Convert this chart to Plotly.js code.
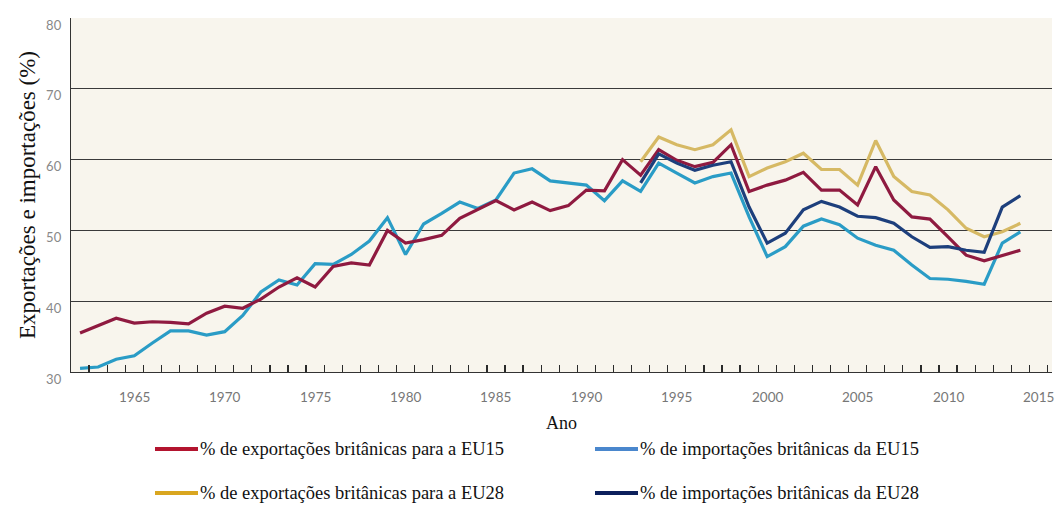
<!DOCTYPE html>
<html>
<head>
<meta charset="utf-8">
<script src="https://cdn.plot.ly/plotly-3.0.1.min.js"></script>
<style>html,body{margin:0;padding:0;background:#fff;}#chart{width:1059px;height:523px;}</style>
</head>
<body>
<div id="chart"></div>
<script>
var years = [];
for (var yr = 1962; yr <= 2014; yr++) years.push(yr);
var yearsEU28 = years.slice(years.indexOf(1993));

var exportsEU15 = [35.5, 36.6, 37.6, 36.9, 37.1, 37.0, 36.8, 38.3, 39.3, 39.0,
  40.3, 42.0, 43.3, 42.0, 44.9, 45.4, 45.1, 50.0, 48.2, 48.7,
  49.3, 51.7, 52.9, 54.2, 52.9, 54.0, 52.8, 53.5, 55.7, 55.6,
  60.0, 57.8, 61.4, 59.9, 59.0, 59.6, 62.1, 55.5, 56.4, 57.1,
  58.2, 55.7, 55.7, 53.6, 59.0, 54.3, 51.9, 51.6, 49.1, 46.5,
  45.7, 46.5, 47.2];
var importsEU15 = [30.5, 30.7, 31.8, 32.3, 34.1, 35.8, 35.8, 35.2, 35.7, 38.0,
  41.3, 43.0, 42.3, 45.3, 45.2, 46.6, 48.5, 51.8, 46.6, 50.9,
  52.4, 54.0, 53.1, 54.3, 58.1, 58.7, 57.0, 56.7, 56.4, 54.2,
  57.0, 55.5, 59.5, 58.1, 56.7, 57.6, 58.1, 51.9, 46.3, 47.7,
  50.6, 51.6, 50.8, 48.9, 47.9, 47.2, 45.1, 43.2, 43.1, 42.8,
  42.4, 48.2, 49.8];
var exportsEU28 = [59.7, 63.2, 62.1, 61.4, 62.1, 64.2, 57.6, 58.8, 59.7, 60.9,
  58.6, 58.6, 56.4, 62.7, 57.6, 55.5, 55.0, 52.9, 50.3, 49.1, 49.8, 51.0];
var importsEU28 = [56.7, 60.8, 59.5, 58.5, 59.2, 59.7, 53.3, 48.2, 49.6, 52.9,
  54.1, 53.3, 52.0, 51.8, 51.0, 49.1, 47.6, 47.7, 47.2, 46.9, 53.3, 54.9];

var seriesNames = [
  '% de exportações britânicas para a EU15',
  '% de importações britânicas da EU15',
  '% de exportações britânicas para a EU28',
  '% de importações britânicas da EU28'
];
var xTickYears = [1965, 1970, 1975, 1980, 1985, 1990, 1995, 2000, 2005, 2010, 2015];
var yTicks = [30, 40, 50, 60, 70, 80];

var lineColors = ['#8f1a40', '#2a9cc6', '#d6b964', '#1d3f7c'];
var legendColors = ['#b3142f', '#4a87cd', '#d9a620', '#0c205c'];

var traces = [
  {x: years, y: importsEU15, name: seriesNames[1], color: lineColors[1]},
  {x: yearsEU28, y: exportsEU28, name: seriesNames[2], color: lineColors[2]},
  {x: years, y: exportsEU15, name: seriesNames[0], color: lineColors[0]},
  {x: yearsEU28, y: importsEU28, name: seriesNames[3], color: lineColors[3]}
].map(function (s) {
  return {x: s.x, y: s.y, name: s.name, type: 'scatter', mode: 'lines',
    line: {color: s.color, width: 3.2}, showlegend: false, hoverinfo: 'x+y+name'};
});

// year boundaries used for the small tick marks on the x axis
var xBoundaryTicks = [];
for (var t = 1961.5; t <= 2015.5; t += 1) xBoundaryTicks.push(t);

var W = 1059, H = 523, mL = 71, mR = 7, mT = 18, mB = 151;
var pw = W - mL - mR, ph = H - mT - mB;
function px(xp) { return (xp - mL) / pw; }
function py(yp) { return (H - mB - yp) / ph; }
var shapes = [], annotations = [];

// year labels, centred on their year (ticks sit between years)
xTickYears.forEach(function (v) {
  annotations.push({xref: 'x', yref: 'paper', x: v, y: py(397),
    xanchor: 'center', yanchor: 'middle', showarrow: false, text: String(v),
    font: {family: 'Lato, sans-serif', size: 13.5, color: '#777'}});
});

// manual legend (2 x 2 grid) in paper coordinates
var legendPos = [
  {x0: 155, y: 449}, {x0: 595, y: 449}, {x0: 155, y: 493}, {x0: 595, y: 493}
];
legendPos.forEach(function (p, i) {
  shapes.push({type: 'line', xref: 'paper', yref: 'paper',
    x0: px(p.x0), x1: px(p.x0 + 43), y0: py(p.y), y1: py(p.y),
    line: {color: legendColors[i], width: 4}});
  annotations.push({xref: 'paper', yref: 'paper', x: px(p.x0 + 43), y: py(p.y),
    xanchor: 'left', yanchor: 'middle', showarrow: false, text: seriesNames[i],
    font: {family: 'Liberation Serif, Times New Roman, serif', size: 18.5, color: '#111'}});
});

var layout = {
  width: W, height: H,
  margin: {l: mL, r: mR, t: mT, b: mB},
  paper_bgcolor: '#ffffff',
  plot_bgcolor: '#f8f5ed',
  showlegend: false,
  xaxis: {
    range: [1961.5, 2015.75],
    tickmode: 'array', tickvals: xBoundaryTicks,
    ticks: 'inside', ticklen: 7, tickwidth: 1.3, tickcolor: '#2a2a2a',
    showticklabels: false, showgrid: false, zeroline: false,
    showline: true, linecolor: '#333', linewidth: 1.2,
    title: {text: 'Ano', standoff: 44,
      font: {family: 'Liberation Serif, Times New Roman, serif', size: 18, color: '#111'}}
  },
  yaxis: {
    range: [30, 80], tickmode: 'array', tickvals: yTicks,
    ticks: '', showgrid: true, gridcolor: '#3a3a3a', gridwidth: 1,
    zeroline: false, showline: true, linecolor: '#333', linewidth: 1.2,
    tickfont: {family: 'Lato, sans-serif', size: 13, color: '#888'},
    ticklabelshift: 7, ticklabelstandoff: 6,
    title: {text: 'Exportações e importações (%)', standoff: 4,
      font: {family: 'Liberation Serif, Times New Roman, serif', size: 23, color: '#111'}}
  },
  shapes: shapes,
  annotations: annotations
};

Plotly.newPlot('chart', traces, layout, {displayModeBar: false, staticPlot: true});
</script>
</body>
</html>
